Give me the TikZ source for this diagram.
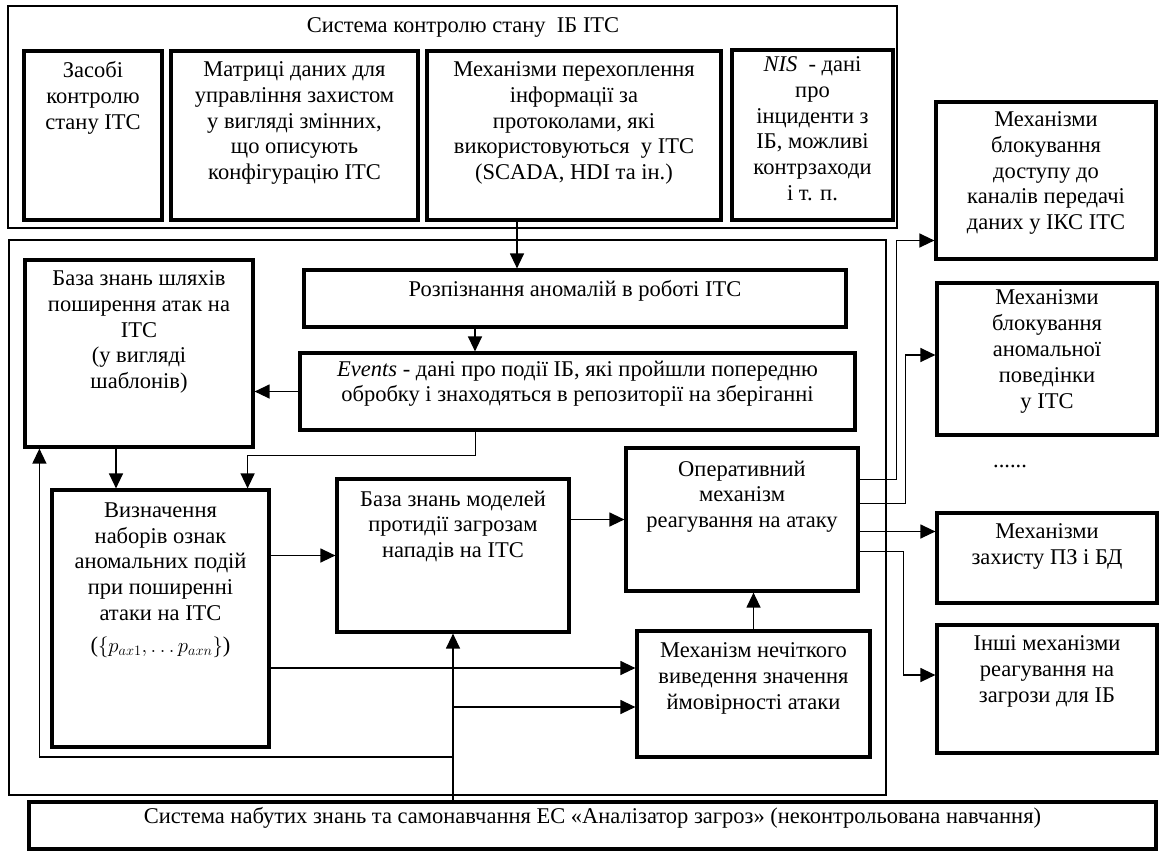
\documentclass[tikz,border=0pt]{standalone}
\usepackage{fontspec}
\setmainfont{Liberation Serif}
\usetikzlibrary{positioning,fit,arrows.meta}

\tikzset{
  box/.style={draw, line width=3.2pt, inner sep=0pt},
  frame/.style={draw, line width=1.6pt, inner sep=0pt},
  txt/.style={align=center, inner sep=0pt, font=\fontsize{22.5}{25.8}\selectfont},
  arr/.style={line width=1.3pt, -{Triangle[length=15pt,width=14pt]}},
}

\begin{document}
\begin{tikzpicture}[x=1pt,y=-1pt]
      \useasboundingbox (0,0) rectangle (1161,852);

      % containers
      \node[frame, fit={(8,6)(897,228)}] (ctrl) {};
      \node[txt] (ctrl-t) at (463,27) {Система контролю стану \ ІБ ІТС};
      \node[frame, fit={(9,240)(886,795)}] (analiz) {};

      % top row
      \node[box, fit={(24,51)(162,220)}] (zasoby) {};
      \node[txt, below=12pt of zasoby.north] (zasoby-t) {Засобі\\контролю\\стану ІТС};
      \node[box, fit={(171,51)(418,220)}] (matr) {};
      \node[txt, below=12pt of matr.north] (matr-t) {Матриці даних для\\управління захистом\\у вигляді змінних,\\що описують\\конфігурацію ІТС};
      \node[box, fit={(427,51)(721,220)}] (perekh) {};
      \node[txt, below=12pt of perekh.north] (perekh-t) {Механізми перехоплення\\інформації за\\протоколами, які\\використовуються \ у ІТС\\(SCADA, HDI та ін.)};
      \node[box, fit={(732,50)(893,220)}] (nis) {};
      \node[txt, below=8pt of nis.north] (nis-t) {\textit{NIS} \ - дані\\про\\інциденти з\\ІБ, можливі\\контрзаходи\\і т. п.};

      % right column
      \node[box, txt, fit={(936,102)(1156,259)}] (blok1) {Механізми\\блокування\\доступу до\\каналів передачі\\даних у ІКС ІТС};
      \node[box, txt, fit={(937,283)(1157,435)}] (blok2) {Механізми\\блокування\\аномальної\\поведінки\\у ІТС};
      \node[txt] (dots) at (1010,466) {......};
      \node[box, fit={(937,513)(1157,603)}] (zakhyst) {};
      \node[txt, below=12pt of zakhyst.north] (zakhyst-t) {Механізми\\захисту ПЗ і БД};
      \node[box, fit={(937,625)(1157,753)}] (inshi) {};
      \node[txt, below=12pt of inshi.north] (inshi-t) {Інші механізми\\реагування на\\загрози для ІБ};

      % analysis block
      \node[box, fit={(25,260)(253,447)}] (bazash) {};
      \node[txt, below=12pt of bazash.north] (bazash-t) {База знань шляхів\\поширення атак на\\ІТС\\(у вигляді\\шаблонів)};
      \node[box, txt, fit={(304,270)(846,327)}] (rozp) {Розпізнання аномалій в роботі ІТС};
      \node[box, txt, fit={(300,353)(855,430)}] (events) {\textit{Events} - дані про події ІБ, які пройшли попередню\\обробку і знаходяться в репозиторії на зберіганні};
      \node[box, fit={(52,490)(269,747)}] (vyzn) {};
      \node[txt, below=14pt of vyzn.north] (vyzn-t) {Визначення\\наборів ознак\\аномальних подій\\при поширенні\\атаки на ІТС\\[6pt]($\{p_{ax1},\ldots p_{axn}\}$)};
      \node[box, fit={(337,479)(569,632)}] (bazam) {};
      \node[txt, below=13pt of bazam.north] (bazam-t) {База знань моделей\\протидії загрозам\\нападів на ІТС};
      \node[box, fit={(626,448)(858,591)}] (operat) {};
      \node[txt, below=14pt of operat.north] (operat-t) {Оперативний\\механізм\\реагування на атаку};
      \node[box, fit={(637,631)(870,757)}] (fuzzy) {};
      \node[txt, below=13pt of fuzzy.north] (fuzzy-t) {Механізм нечіткого\\виведення значення\\ймовірності атаки};

      % bottom
      \node[box, txt, fit={(29,802)(1156,849)}] (navch) {Система набутих знань та самонавчання ЕС «Аналізатор загроз» (неконтрольована навчання)};

      % connectors
      \coordinate (p1) at ([xshift=-57pt]perekh.south);
      \draw[arr] (p1) -- (p1 |- rozp.north);
      \coordinate (r1) at ([xshift=-100pt]rozp.south);
      \draw[arr] (r1) -- (r1 |- events.north);
      \draw[arr] (events.west) -- (events.west -| bazash.east);
      \coordinate (e1) at ([xshift=-102pt]events.south);
      \draw[arr] (e1) -- ++(0,24) -| ([xshift=-23pt]vyzn.north east);
      \coordinate (b1) at ([xshift=-23pt]bazash.south);
      \draw[arr] (b1) -- (b1 |- vyzn.north);
      \draw[arr] (bazam.west -| vyzn.east) -- (bazam.west);
      \draw[arr] (bazam.south |- navch.north) -- (bazam.south);
      \coordinate (fb) at (453,757);
      \draw[arr] (fb) -| ([xshift=16pt]bazash.south west);
      \coordinate (f1) at ([yshift=26pt]fuzzy.west);
      \draw[arr] (f1 -| vyzn.east) -- (f1);
      \coordinate (f2) at ([yshift=-13pt]fuzzy.west);
      \draw[arr] (f2 -| bazam.south) -- (f2);
      \draw[arr] (fuzzy.north) -- (fuzzy.north |- operat.south);
      \draw[arr] (operat.west -| bazam.east) -- (operat.west);

      % outputs
      \draw[arr] ([yshift=40pt]operat.east) -- ++(37,0) |- ([yshift=-60pt]blok1.west);
      \draw[arr] ([yshift=16pt]operat.east) -- ++(46,0) |- ([yshift=4pt]blok2.west);
      \coordinate (o3) at ([yshift=-12pt]operat.east);
      \draw[arr] (o3) -- (o3 -| zakhyst.west);
      \draw[arr] ([yshift=-32pt]operat.east) -- ++(44,0) |- ([yshift=14pt]inshi.west);
\end{tikzpicture}
\end{document}
